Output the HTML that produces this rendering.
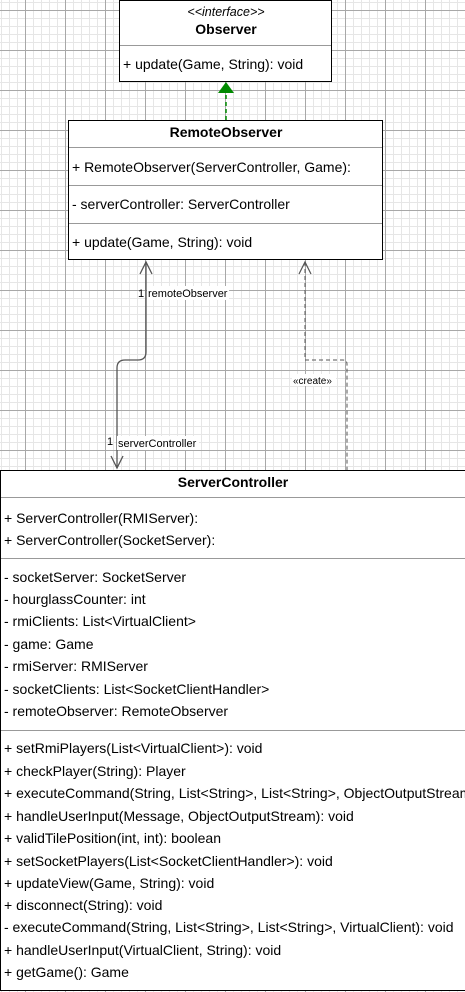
<!DOCTYPE html>
<html><head><meta charset="utf-8"><style>
html,body{margin:0;padding:0;background:#fff;}
svg{display:block;font-family:"Liberation Sans",Arial,sans-serif;font-size:14px;}
</style></head><body>
<svg width="465" height="992" xmlns="http://www.w3.org/2000/svg">
<defs>
<pattern id="mn" width="8" height="8" patternUnits="userSpaceOnUse" x="1" y="2">
<path d="M0 0.5H8M0.5 0V8" stroke="#e6e6e6" stroke-width="1" fill="none"/>
</pattern>
<pattern id="mj" width="40" height="40" patternUnits="userSpaceOnUse" x="25" y="10">
<path d="M0 0.5H40M0.5 0V40" stroke="#a8a8a8" stroke-width="1" fill="none"/>
</pattern>
</defs>
<rect width="465" height="992" fill="url(#mn)"/>
<rect width="465" height="992" fill="url(#mj)"/>

<path d="M146 262V352Q146 360 138 360H125Q117 360 117 368V468" stroke="#555" stroke-width="1.3" fill="none"/>
<path d="M140 274L146 262L152 274" stroke="#555" stroke-width="1.3" fill="none"/>
<path d="M111 456L117 468L123 456" stroke="#555" stroke-width="1.3" fill="none"/>
<path d="M305 262V360H343Q347 360 347 364V470" stroke="#555" stroke-width="1" stroke-dasharray="4,3" fill="none"/>
<path d="M299 274L305 262L311 274" stroke="#555" stroke-width="1.2" fill="none"/>
<rect x="147" y="286" width="82" height="14" fill="#fff"/>
<text x="138" y="297" font-size="11">1</text>
<text x="148" y="297" font-size="11">remoteObserver</text>
<rect x="117" y="436" width="82" height="14" fill="#fff"/>
<text x="107" y="445" font-size="11">1</text>
<text x="118" y="447" font-size="11">serverController</text>
<rect x="292" y="374" width="44" height="12" fill="#fff"/>
<text x="293" y="384" font-size="10">«create»</text>

<path d="M226 120V93" stroke="#008a00" stroke-width="1.5" stroke-dasharray="4,3"/>
<path d="M226 82L218 93H234Z" fill="#008a00"/>

<rect x="119.5" y="0.5" width="212" height="81" fill="#fff" stroke="#000"/>
<line x1="120" y1="45.5" x2="331" y2="45.5" stroke="#999"/>
<text x="226" y="16" text-anchor="middle" font-style="italic" font-size="12.5">&lt;&lt;interface&gt;&gt;</text>
<text x="226" y="34" text-anchor="middle" font-weight="bold">Observer</text>
<text x="123" y="69">+ update(Game, String): void</text>

<rect x="68.5" y="120.5" width="314" height="139" fill="#fff" stroke="#000"/>
<line x1="69" y1="147.5" x2="382" y2="147.5" stroke="#999"/>
<line x1="69" y1="185.5" x2="382" y2="185.5" stroke="#999"/>
<line x1="69" y1="223.5" x2="382" y2="223.5" stroke="#999"/>
<text x="226" y="137" text-anchor="middle" font-weight="bold">RemoteObserver</text>
<text x="72" y="172">+ RemoteObserver(ServerController, Game):</text>
<text x="72" y="209">- serverController: ServerController</text>
<text x="72" y="247">+ update(Game, String): void</text>

<rect x="0.5" y="470.5" width="470" height="520" fill="#fff" stroke="#000"/>
<line x1="1" y1="497.5" x2="465" y2="497.5" stroke="#999"/>
<line x1="1" y1="558.5" x2="465" y2="558.5" stroke="#999"/>
<line x1="1" y1="730.5" x2="465" y2="730.5" stroke="#999"/>
<text x="233" y="487" text-anchor="middle" font-weight="bold">ServerController</text>
<g>
<text x="4" y="523">+ ServerController(RMIServer):</text>
<text x="4" y="545">+ ServerController(SocketServer):</text>
<text x="4" y="582">- socketServer: SocketServer</text>
<text x="4" y="604">- hourglassCounter: int</text>
<text x="4" y="626">- rmiClients: List&lt;VirtualClient&gt;</text>
<text x="4" y="649">- game: Game</text>
<text x="4" y="671">- rmiServer: RMIServer</text>
<text x="4" y="694">- socketClients: List&lt;SocketClientHandler&gt;</text>
<text x="4" y="716">- remoteObserver: RemoteObserver</text>
<text x="4" y="753">+ setRmiPlayers(List&lt;VirtualClient&gt;): void</text>
<text x="4" y="776">+ checkPlayer(String): Player</text>
<text x="4" y="798">+ executeCommand(String, List&lt;String&gt;, List&lt;String&gt;, ObjectOutputStream): void</text>
<text x="4" y="821">+ handleUserInput(Message, ObjectOutputStream): void</text>
<text x="4" y="843">+ validTilePosition(int, int): boolean</text>
<text x="4" y="866">+ setSocketPlayers(List&lt;SocketClientHandler&gt;): void</text>
<text x="4" y="888">+ updateView(Game, String): void</text>
<text x="4" y="910">+ disconnect(String): void</text>
<text x="4" y="932">- executeCommand(String, List&lt;String&gt;, List&lt;String&gt;, VirtualClient): void</text>
<text x="4" y="955">+ handleUserInput(VirtualClient, String): void</text>
<text x="4" y="977">+ getGame(): Game</text>
</g>
</svg>
</body></html>
